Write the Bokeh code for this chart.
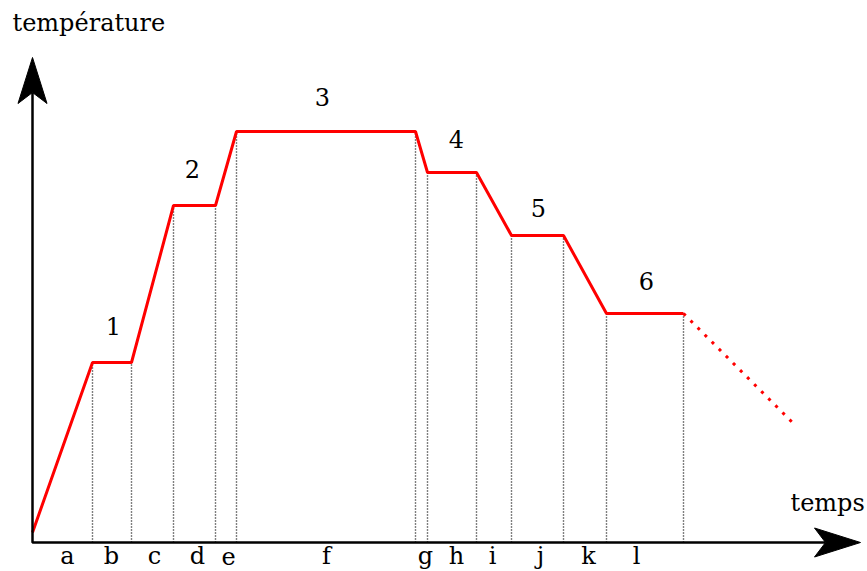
from bokeh.plotting import figure
from bokeh.models import Range1d
from bokeh.core.properties import value
from bokeh.embed import file_html
from bokeh.resources import INLINE

# Heating / cooling curve (arbitrary units)
times = [0.0, 6.0, 9.9, 14.1, 18.3, 20.4, 38.3, 39.5, 44.4, 47.9, 53.1, 57.4, 65.1]
temps = [1.0, 18.0, 18.0, 33.7, 33.7, 41.1, 41.1, 37.0, 37.0, 30.7, 30.7, 22.9, 22.9]
cool_t = [65.1, 76.0]
cool_T = [22.9, 12.0]

phase_labels = ["a", "b", "c", "d", "e", "f", "g", "h", "i", "j", "k", "l"]
phase_label_t = [3.5, 7.9, 12.2, 16.5, 19.6, 29.4, 39.3, 42.4, 46.0, 50.8, 55.6, 60.4]

step_labels = ["1", "2", "3", "4", "5", "6"]
step_label_t = [8.1, 16.0, 29.0, 42.4, 50.6, 61.4]
step_label_T = [21.7, 37.4, 44.6, 40.4, 33.5, 26.2]

x_axis_end = 82.8
y_axis_end = 48.5

FONT = value("DejaVu Serif")
FSIZE = "24px"

p = figure(width=867, height=571, x_range=Range1d(-3.2, 83.5), y_range=Range1d(-2.9, 54.2),
           output_backend="svg", toolbar_location=None, min_border=0)
p.axis.visible = False
p.grid.visible = False
p.outline_line_color = None
p.background_fill_color = "white"
p.border_fill_color = "white"

# dotted verticals
p.segment(x0=times[1:], y0=[0] * (len(times) - 1), x1=times[1:], y1=temps[1:],
          line_color="black", line_width=1.4, line_dash="1 2")

# curve
p.line(times, temps, line_color="red", line_width=3)
p.line(cool_t, cool_T, line_color="red", line_width=3, line_dash="3 7")

# axes
head_len, head_notch, head_hw = 4.6, 3.5, 1.45
p.line([0, 0, x_axis_end - head_notch], [y_axis_end - head_notch, 0, 0], line_color="black", line_width=2.5)
p.patch([x_axis_end, x_axis_end - head_len, x_axis_end - head_notch, x_axis_end - head_len],
        [0, head_hw, 0, -head_hw], color="black")
p.patch([0, head_hw, 0, -head_hw],
        [y_axis_end, y_axis_end - head_len, y_axis_end - head_notch, y_axis_end - head_len], color="black")

# texts
p.text(x=phase_label_t, y=[-1.35] * len(phase_labels), text=phase_labels, text_font=FONT,
       text_font_size=FSIZE, text_align="center", text_baseline="alphabetic", text_color="black")
p.text(x=step_label_t, y=step_label_T, text=step_labels, text_font=FONT,
       text_font_size=FSIZE, text_align="center", text_baseline="alphabetic", text_color="black")
p.text(x=[-2.0], y=[52.0], text=["température"], text_font=FONT, text_font_size=FSIZE,
       text_align="left", text_baseline="alphabetic", text_color="black")
p.text(x=[75.8], y=[4.0], text=["temps"], text_font=FONT, text_font_size=FSIZE,
       text_align="left", text_baseline="alphabetic", text_color="black")

open("out.html", "w").write(file_html(p, INLINE))
